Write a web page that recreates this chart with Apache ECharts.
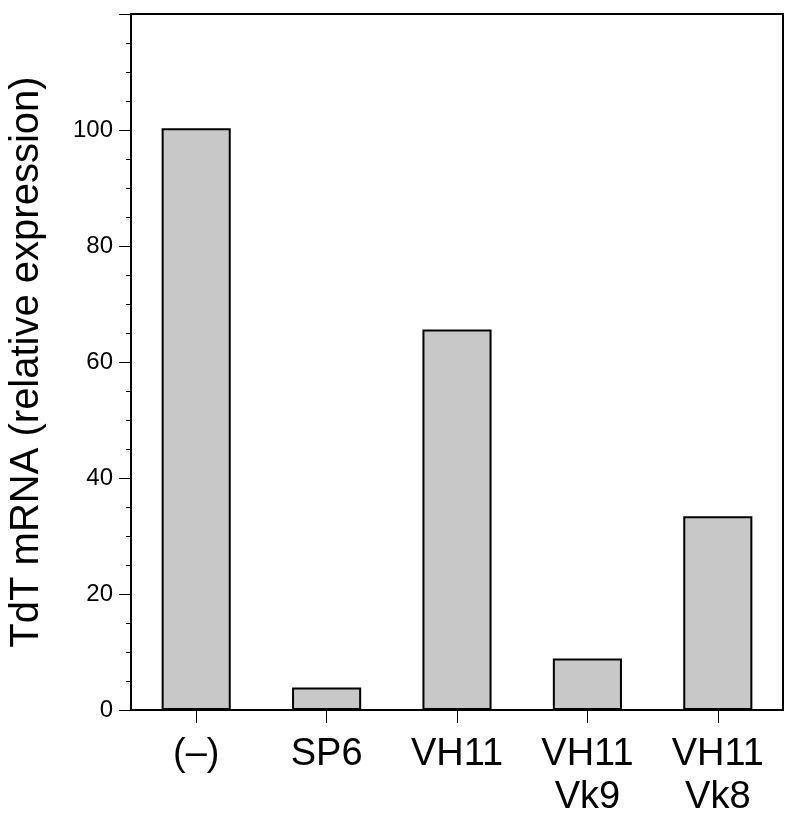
<!DOCTYPE html>
<html>
<head>
<meta charset="utf-8">
<script src="https://cdn.jsdelivr.net/npm/echarts@6/dist/echarts.min.js"></script>
<style>html,body{margin:0;padding:0;background:#fff;}#c{width:800px;height:816px;}</style>
</head>
<body>
<div id="c"></div>
<script>
var categories = ['(–)', 'SP6', 'VH11', 'VH11\nVk9', 'VH11\nVk8'];
var values = [100.3, 3.9, 65.6, 8.9, 33.4];
var yTitle = 'TdT mRNA (relative expression)';
var yMin = 0, yMax = 120, yInterval = 20;

var chart = echarts.init(document.getElementById('c'), null, {renderer: 'canvas'});
var font = 'Liberation Sans, Arial, Helvetica, sans-serif';
chart.setOption({
  animation: false,
  backgroundColor: '#fff',
  grid: {left: 131, right: 17, top: 14, bottom: 106, show: true, borderColor: '#000', borderWidth: 2,
    backgroundColor: 'transparent', containLabel: false, outerBoundsMode: 'none'},
  xAxis: {
    type: 'category',
    data: categories,
    boundaryGap: true,
    axisLine: {show: true, lineStyle: {color: '#000', width: 2}},
    axisTick: {show: true, alignWithLabel: true, length: 13, lineStyle: {color: '#000', width: 1}},
    axisLabel: {color: '#000', fontSize: 38, fontFamily: font, margin: 23, lineHeight: 43, interval: 0}
  },
  yAxis: {
    type: 'value',
    min: yMin, max: yMax, interval: yInterval,
    name: yTitle,
    nameLocation: 'middle',
    nameGap: 84,
    nameRotate: 90,
    nameTextStyle: {color: '#000', fontSize: 40, fontFamily: font},
    axisLine: {show: true, lineStyle: {color: '#000', width: 2}},
    axisTick: {show: true, length: 12, lineStyle: {color: '#000', width: 1}},
    minorTick: {show: true, splitNumber: 4, length: 5, lineStyle: {color: '#000', width: 1}},
    splitLine: {show: false},
    axisLabel: {color: '#000', fontSize: 24, fontFamily: font, margin: 18,
      formatter: function (v) { return v === 120 ? '' : String(v); }}
  },
  series: [{
    type: 'bar',
    data: values,
    barWidth: '53%',
    itemStyle: {color: '#c8c8c8', borderColor: '#000', borderWidth: 2}
  }]
});
</script>
</body>
</html>
